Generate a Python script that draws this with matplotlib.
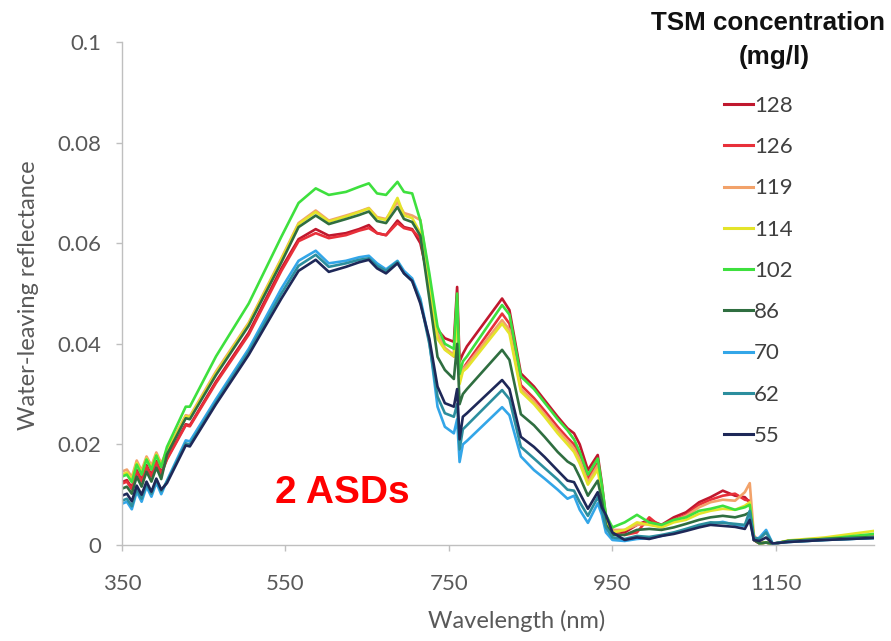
import matplotlib
matplotlib.use("Agg")
import matplotlib.pyplot as plt
from matplotlib.lines import Line2D

# Wavelength grid (nm)
WL = [350, 356, 362, 368, 374, 380, 386, 392, 398,
      405, 428, 433, 465, 505, 545, 566, 587,
      603, 624, 640, 652, 662, 673, 687, 695, 705, 715,
      726, 736, 745, 756, 760, 763, 767, 772,
      815, 824, 838, 854, 867, 883, 895, 903, 910, 920, 932, 937, 942, 950,
      965, 980, 995, 1010, 1025, 1040, 1056, 1070, 1085, 1100, 1112, 1118, 1123, 1130, 1138, 1146, 1165, 1210, 1270]

R128 = [0.0125, 0.0129, 0.0114, 0.0149, 0.0129, 0.0159, 0.0139, 0.0167, 0.0144,
        0.0172, 0.0240, 0.0238, 0.0325, 0.0422, 0.0550, 0.0608, 0.0628,
        0.0615, 0.0620, 0.0628, 0.0636, 0.0620, 0.0616, 0.0645, 0.0632, 0.0628, 0.0600,
        0.0520, 0.0428, 0.0411, 0.0404, 0.0513, 0.0365, 0.0380, 0.0395,
        0.0490, 0.0467, 0.0341, 0.0315, 0.0288, 0.0255, 0.0232, 0.0222, 0.0200, 0.0149, 0.0179, 0.0123, 0.0055, 0.0030,
        0.0025, 0.0040, 0.0050, 0.0040, 0.0055, 0.0065, 0.0085, 0.0095, 0.0108, 0.0098, 0.0095, 0.0085, 0.0010, 0.0003, 0.0005, 0.0002, 0.0008, 0.0012, 0.0016]
R126 = [0.0122, 0.0126, 0.0111, 0.0146, 0.0126, 0.0156, 0.0136, 0.0164, 0.0141,
        0.0170, 0.0238, 0.0236, 0.0322, 0.0418, 0.0545, 0.0604, 0.0620,
        0.0610, 0.0616, 0.0625, 0.0630, 0.0620, 0.0616, 0.0640, 0.0630, 0.0626, 0.0610,
        0.0510, 0.0415, 0.0390, 0.0375, 0.0490, 0.0330, 0.0350, 0.0362,
        0.0460, 0.0440, 0.0318, 0.0292, 0.0267, 0.0235, 0.0213, 0.0200, 0.0178, 0.0132, 0.0163, 0.0110, 0.0050, 0.0025,
        0.0020, 0.0025, 0.0055, 0.0035, 0.0050, 0.0060, 0.0080, 0.0090, 0.0098, 0.0102, 0.0090, 0.0088, 0.0010, 0.0003, 0.0005, 0.0002, 0.0008, 0.0012, 0.0016]
R119 = [0.0146, 0.0150, 0.0135, 0.0168, 0.0148, 0.0176, 0.0158, 0.0184, 0.0162,
        0.0188, 0.0258, 0.0256, 0.0345, 0.0442, 0.0570, 0.0640, 0.0665,
        0.0645, 0.0655, 0.0663, 0.0670, 0.0652, 0.0648, 0.0682, 0.0660, 0.0655, 0.0646,
        0.0530, 0.0420, 0.0392, 0.0378, 0.0470, 0.0330, 0.0350, 0.0358,
        0.0447, 0.0428, 0.0310, 0.0285, 0.0260, 0.0228, 0.0207, 0.0192, 0.0170, 0.0125, 0.0158, 0.0105, 0.0050, 0.0030,
        0.0030, 0.0040, 0.0042, 0.0038, 0.0048, 0.0058, 0.0075, 0.0085, 0.0090, 0.0088, 0.0105, 0.0123, 0.0020, 0.0003, 0.0005, 0.0002, 0.0008, 0.0012, 0.0018]
R114 = [0.0140, 0.0144, 0.0130, 0.0163, 0.0143, 0.0172, 0.0153, 0.0180, 0.0158,
        0.0186, 0.0256, 0.0254, 0.0342, 0.0440, 0.0568, 0.0638, 0.0662,
        0.0643, 0.0653, 0.0662, 0.0669, 0.0650, 0.0646, 0.0690, 0.0655, 0.0650, 0.0620,
        0.0510, 0.0410, 0.0388, 0.0375, 0.0460, 0.0320, 0.0345, 0.0352,
        0.0440, 0.0420, 0.0305, 0.0280, 0.0255, 0.0222, 0.0200, 0.0185, 0.0162, 0.0120, 0.0150, 0.0100, 0.0045, 0.0025,
        0.0030, 0.0045, 0.0040, 0.0035, 0.0045, 0.0050, 0.0062, 0.0068, 0.0072, 0.0070, 0.0078, 0.0085, 0.0015, 0.0003, 0.0005, 0.0002, 0.0009, 0.0015, 0.0028]
R102 = [0.0136, 0.0140, 0.0125, 0.0160, 0.0140, 0.0170, 0.0150, 0.0178, 0.0155,
        0.0195, 0.0275, 0.0275, 0.0375, 0.0480, 0.0613, 0.0680, 0.0709,
        0.0696, 0.0702, 0.0712, 0.0719, 0.0699, 0.0696, 0.0722, 0.0702, 0.0699, 0.0645,
        0.0540, 0.0434, 0.0400, 0.0390, 0.0500, 0.0340, 0.0365, 0.0375,
        0.0477, 0.0458, 0.0335, 0.0310, 0.0283, 0.0250, 0.0228, 0.0210, 0.0185, 0.0140, 0.0172, 0.0120, 0.0060, 0.0035,
        0.0045, 0.0060, 0.0045, 0.0040, 0.0050, 0.0055, 0.0068, 0.0072, 0.0078, 0.0070, 0.0075, 0.0080, 0.0015, 0.0003, 0.0005, 0.0002, 0.0008, 0.0012, 0.0022]
R86 = [0.0112, 0.0116, 0.0102, 0.0136, 0.0116, 0.0146, 0.0126, 0.0154, 0.0131,
       0.0180, 0.0252, 0.0250, 0.0338, 0.0436, 0.0562, 0.0632, 0.0655,
       0.0638, 0.0648, 0.0656, 0.0663, 0.0644, 0.0640, 0.0672, 0.0648, 0.0642, 0.0615,
       0.0490, 0.0374, 0.0348, 0.0330, 0.0400, 0.0280, 0.0300, 0.0310,
       0.0388, 0.0368, 0.0260, 0.0238, 0.0215, 0.0185, 0.0166, 0.0158, 0.0135, 0.0098, 0.0128, 0.0090, 0.0040, 0.0020,
       0.0020, 0.0030, 0.0032, 0.0030, 0.0035, 0.0042, 0.0050, 0.0055, 0.0058, 0.0055, 0.0060, 0.0065, 0.0010, 0.0003, 0.0005, 0.0002, 0.0008, 0.0012, 0.0016]
R70 = [0.0082, 0.0086, 0.0071, 0.0106, 0.0086, 0.0116, 0.0096, 0.0124, 0.0101,
       0.0128, 0.0208, 0.0206, 0.0290, 0.0390, 0.0510, 0.0565, 0.0585,
       0.0560, 0.0565, 0.0572, 0.0575, 0.0560, 0.0548, 0.0565, 0.0545, 0.0530, 0.0490,
       0.0405, 0.0275, 0.0235, 0.0222, 0.0250, 0.0165, 0.0200, 0.0207,
       0.0274, 0.0258, 0.0176, 0.0149, 0.0132, 0.0110, 0.0092, 0.0098, 0.0070, 0.0044, 0.0083, 0.0060, 0.0025, 0.0010,
       0.0008, 0.0012, 0.0014, 0.0018, 0.0024, 0.0030, 0.0038, 0.0042, 0.0046, 0.0040, 0.0038, 0.0055, 0.0010, 0.0015, 0.0030, 0.0003, 0.0006, 0.0010, 0.0014]
R62 = [0.0088, 0.0092, 0.0077, 0.0112, 0.0092, 0.0122, 0.0102, 0.0130, 0.0107,
       0.0126, 0.0202, 0.0200, 0.0284, 0.0384, 0.0500, 0.0555, 0.0577,
       0.0553, 0.0560, 0.0567, 0.0570, 0.0555, 0.0545, 0.0563, 0.0540, 0.0525, 0.0485,
       0.0400, 0.0295, 0.0262, 0.0255, 0.0280, 0.0190, 0.0230, 0.0238,
       0.0308, 0.0290, 0.0195, 0.0172, 0.0153, 0.0130, 0.0110, 0.0108, 0.0085, 0.0058, 0.0095, 0.0070, 0.0035, 0.0015,
       0.0012, 0.0018, 0.0016, 0.0020, 0.0025, 0.0032, 0.0040, 0.0045, 0.0044, 0.0042, 0.0040, 0.0068, 0.0015, 0.0012, 0.0025, 0.0003, 0.0006, 0.0010, 0.0014]
R55 = [0.0098, 0.0102, 0.0087, 0.0118, 0.0100, 0.0126, 0.0106, 0.0132, 0.0110,
       0.0123, 0.0198, 0.0196, 0.0280, 0.0378, 0.0490, 0.0545, 0.0567,
       0.0543, 0.0553, 0.0562, 0.0567, 0.0550, 0.0540, 0.0560, 0.0540, 0.0525, 0.0480,
       0.0410, 0.0315, 0.0282, 0.0275, 0.0310, 0.0210, 0.0255, 0.0262,
       0.0328, 0.0310, 0.0215, 0.0195, 0.0175, 0.0148, 0.0128, 0.0125, 0.0103, 0.0072, 0.0105, 0.0075, 0.0060, 0.0025,
       0.0010, 0.0015, 0.0012, 0.0018, 0.0022, 0.0028, 0.0035, 0.0040, 0.0038, 0.0036, 0.0032, 0.0050, 0.0010, 0.0008, 0.0015, 0.0003, 0.0006, 0.0010, 0.0014]

LABELS = ["128", "126", "119", "114", "102", "86", "70", "62", "55"]
SERIES = [R128, R126, R119, R114, R102, R86, R70, R62, R55]
COLORS = ["#C0182E", "#E8303A", "#F2A26A", "#E4E42A", "#3EE03E",
          "#2F6E40", "#33A6E8", "#2C8E9E", "#1E2858"]

XTICKS = [350, 550, 750, 950, 1150]
YTICKS = [0, 0.02, 0.04, 0.06, 0.08, 0.1]
YTICKLABELS = ["0", "0.02", "0.04", "0.06", "0.08", "0.1"]

for s in SERIES:
    assert len(s) == len(WL)

fig = plt.figure(figsize=(8.91, 6.41), dpi=100)
ax = fig.add_axes([122 / 891, 1 - 545 / 641, (874 - 122) / 891, (545 - 42) / 641])

for vals, lab, col in zip(SERIES, LABELS, COLORS):
    ax.plot(WL, vals, color=col, lw=1.9, label=lab, solid_joinstyle="round")

ax.set_xlim(350, 1270)
ax.set_ylim(0, 0.1)
ax.set_xticks(XTICKS)
ax.set_xticklabels([str(t) for t in XTICKS])
ax.set_yticks(YTICKS)
ax.set_yticklabels(YTICKLABELS)

for sp in ["top", "right"]:
    ax.spines[sp].set_visible(False)
for sp in ["left", "bottom"]:
    ax.spines[sp].set_color("#BFBFBF")
    ax.spines[sp].set_linewidth(1.0)

ax.tick_params(axis="both", colors="#BFBFBF", length=4, width=1, labelcolor="#595959",
               labelsize=16, direction="out")
ax.tick_params(axis="y", pad=11)
ax.tick_params(axis="x", pad=17)
for lbl in ax.get_xticklabels() + ax.get_yticklabels():
    lbl.set_fontfamily("Lato")

fig.text(29 / 891, 1 - 295 / 641, "Water-leaving reflectance", rotation=90,
         ha="center", va="center", family="Lato", size=17, color="#595959")
fig.text(517 / 891, 1 - 621 / 641, "Wavelength (nm)", ha="center", va="center",
         family="Lato", size=17, color="#595959")

ax.text(619, 0.0103, "2 ASDs", color="#FF0000", fontsize=28, fontweight="bold",
        family="Liberation Sans", ha="center", va="center")

fig.text(768 / 891, 1 - 23 / 641, "TSM concentration", ha="center", va="center",
         family="Liberation Sans", fontweight="bold", size=18.7, color="#111111")
fig.text(774 / 891, 1 - 57 / 641, "(mg/l)", ha="center", va="center",
         family="Liberation Sans", fontweight="bold", size=18.7, color="#111111")

handles = [Line2D([], [], color=c, lw=2.2) for c in COLORS]
leg = fig.legend(handles, LABELS, loc="upper left",
                 bbox_to_anchor=(724 / 891, 1 - 96 / 641), bbox_transform=fig.transFigure,
                 frameon=False, handlelength=1.3, handletextpad=0.05, labelspacing=0.955,
                 borderpad=0, borderaxespad=0,
                 prop=dict(family="Lato", size=16))
for t in leg.get_texts():
    t.set_color("#404040")

fig.savefig("out.png", dpi=100)
